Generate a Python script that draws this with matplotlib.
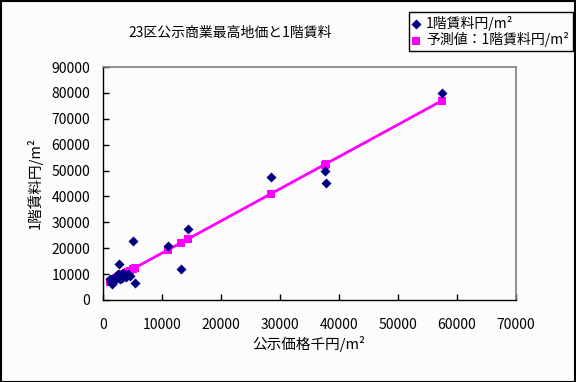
import matplotlib
matplotlib.use("Agg")
import matplotlib.pyplot as plt
from matplotlib.ticker import MultipleLocator

plt.rcParams['font.family'] = ['Noto Sans CJK JP', 'DejaVu Sans']

# 公示価格 (千円/m2) と 1階賃料 (円/m2)
land_price = [1200, 1400, 1500, 1700, 1900, 2100, 2300, 2600, 2900, 3100,
              3300, 3500, 3700, 4000, 4300, 4600, 2800, 5200, 5500, 11000,
              13200, 14500, 28500, 37600, 37900, 57500]
rent = [8200, 7000, 6200, 7600, 8500, 7800, 9000, 10200, 8200, 9500,
        8600, 10500, 9200, 8800, 10000, 9400, 13800, 22800, 6400, 20900,
        11900, 27300, 47500, 49700, 45100, 80000]
# 予測値 (回帰線上の値)
rent_pred = [7130, 7380, 7500, 7750, 8000, 8250, 8490, 8870, 9240, 9490,
             9740, 9980, 10230, 10600, 10980, 11350, 9110, 12090, 12470, 19290,
             22020, 23630, 41010, 52300, 52670, 77000]

title = '23区公示商業最高地価と1階賃料'
xlabel = '公示価格千円/m²'
ylabel = '1階賃料円/m²'
label_actual = '1階賃料円/m²'
label_pred = '予測値：1階賃料円/m²'

fig = plt.figure(figsize=(5.76, 3.82), dpi=100, facecolor='#fcfcfc')
ax = fig.add_axes([0.1783, 0.2147, 0.717, 0.6099])
ax.set_facecolor('#fcfcfc')

# sort predicted points so the line is drawn left to right
order = sorted(range(len(land_price)), key=lambda i: land_price[i])
px = [land_price[i] for i in order]
py = [rent_pred[i] for i in order]

ax.plot(px, py, color='#ff00ff', lw=2, zorder=2)
ax.scatter(land_price, rent_pred, marker='s', s=28, color='#ff00ff',
           zorder=3, label=label_pred, linewidths=0)
ax.scatter(land_price, rent, marker='D', s=26, color='#000080',
           zorder=4, label=label_actual, linewidths=0)

ax.set_xlim(0, 70000)
ax.set_ylim(0, 90000)
ax.xaxis.set_major_locator(MultipleLocator(10000))
ax.yaxis.set_major_locator(MultipleLocator(10000))
ax.tick_params(direction='in', length=4, width=1, labelsize=10)
ax.tick_params(axis='x', pad=13)
ax.tick_params(axis='y', pad=9)

for side in ['top', 'right']:
    ax.spines[side].set_color('#808080')
    ax.spines[side].set_linewidth(1.2)
for side in ['left', 'bottom']:
    ax.spines[side].set_color('black')
    ax.spines[side].set_linewidth(1)

ax.set_xlabel(xlabel, fontsize=10.5, labelpad=3)
ax.set_ylabel(ylabel, fontsize=10.5, labelpad=6)

fig.text(0.40, 0.913, title, ha='center', va='center', fontsize=10)

handles, labels = ax.get_legend_handles_labels()
leg = fig.legend(handles[::-1], labels[::-1], loc='upper right',
                 bbox_to_anchor=(0.994, 0.968), fontsize=10, frameon=True,
                 fancybox=False, edgecolor='black', framealpha=1,
                 facecolor='#fcfcfc', handlelength=0.6, handletextpad=0.4,
                 borderpad=0.25, labelspacing=0.1, borderaxespad=0)
leg.get_frame().set_linewidth(1)

# chart border
fig.patches.append(plt.Rectangle((0.001, 0.001), 0.998, 0.997, transform=fig.transFigure,
                                 fill=False, edgecolor='black', lw=1.5))

fig.savefig('out.png', dpi=100, facecolor=fig.get_facecolor())
